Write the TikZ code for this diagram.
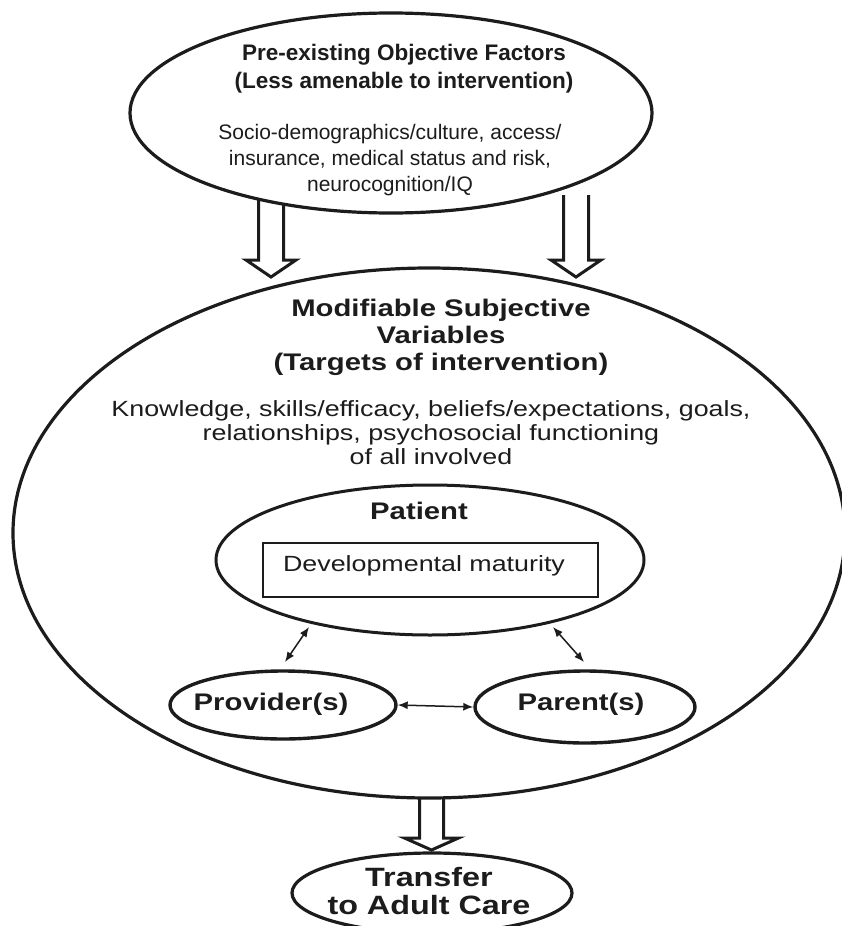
\documentclass[tikz,border=0pt]{standalone}
\usepackage{fontspec}
\setmainfont{Liberation Sans}
\newfontfamily\widefont[FakeStretch=1.22]{Liberation Sans}
\usetikzlibrary{shapes.geometric,arrows.meta}
\definecolor{ink}{HTML}{1C1C1C}
\newcommand\blockarrow[6]{%
  \draw[blk] (#1-#5,#2) -- (#1-#5,#3) -- (#1-#6,#3) -- (#1,#4) -- (#1+#6,#3) -- (#1+#5,#3) -- (#1+#5,#2);}
\begin{document}
\begin{tikzpicture}[x=1pt,y=-1pt,
  ell/.style={ellipse, draw=ink, line width=3.2pt, fill=white, inner sep=0pt},
  blk/.style={draw=ink, line width=3pt, line join=miter, fill=white},
  dbl/.style={{Latex[length=10pt,width=8pt]}-{Latex[length=10pt,width=8pt]}, draw=ink, fill=ink, line width=1.5pt},
  txt/.style={align=center, inner sep=0pt, text=ink},
  toptitle/.style={txt, font=\fontsize{22.5}{28}\selectfont\bfseries},
  topbody/.style={txt, font=\fontsize{21}{26}\selectfont},
  midtitle/.style={txt, font=\widefont\fontsize{24}{27}\selectfont\bfseries},
  midbody/.style={txt, font=\widefont\fontsize{22}{24}\selectfont},
  bottitle/.style={txt, font=\widefont\fontsize{26.5}{28}\selectfont\bfseries}]
\useasboundingbox (0,0) rectangle (842,926);
\fill[white] (0,0) rectangle (842,926);

% block arrows from top ellipse
\blockarrow{271}{195}{260}{277}{12.5}{25}
\blockarrow{576}{195}{260}{277}{12.5}{25}
\node[ell, minimum width=522pt, minimum height=200pt] (top) at (391,113) {};
\node[toptitle] (toptl) at (404,69) {Pre-existing Objective Factors\\(Less amenable to intervention)};
\node[topbody] (topbd) at (390,160) {Socio-demographics/culture, access/\\insurance, medical status and risk,\\neurocognition/IQ};

% bottom block arrow
\blockarrow{431.5}{790}{838}{850}{12}{27}
\node[ell, minimum width=832pt, minimum height=530pt] (big) at (429,533) {};
\node[ell, minimum width=280pt, minimum height=80pt] (trans) at (432,893) {};
\node[bottitle] (transtx) at (429,891) {Transfer\\to Adult Care};

\node[midtitle] (midtl) at (441,337) {Modifiable Subjective\\Variables\\(Targets of intervention)};
\node[midbody] (midbd) at (431,433) {Knowledge, skills/efficacy, beliefs/expectations, goals,\\relationships, psychosocial functioning\\of all involved};

\node[ell, line width=3pt, minimum width=428pt, minimum height=150pt] (pat) at (430,560) {};
\node[midtitle] (pattx) at (419,511) {Patient};
\node[draw=ink, line width=1.3pt, minimum width=335pt, minimum height=54pt, inner sep=0pt] (box) at (430.5,570) {};
\node[midbody] (boxtx) at (424,566) {Developmental maturity};

\node[ell, line width=3.4pt, minimum width=226pt, minimum height=68pt] (prov) at (283,705) {};
\node[ell, line width=3.4pt, minimum width=220pt, minimum height=72pt] (par) at (585,707) {};
\node[midtitle] (provtx) at (271,704) {Provider(s)};
\node[midtitle] (partx) at (581,704) {Parent(s)};

\coordinate (l1) at (309,627);
\coordinate (l2) at (285,662);
\coordinate (r1) at (553,627);
\coordinate (r2) at (584,662);
\draw[dbl] (l1) -- (l2);
\draw[dbl] (r1) -- (r2);
\draw[dbl] (prov.east) -- (par.west);
\end{tikzpicture}
\end{document}
